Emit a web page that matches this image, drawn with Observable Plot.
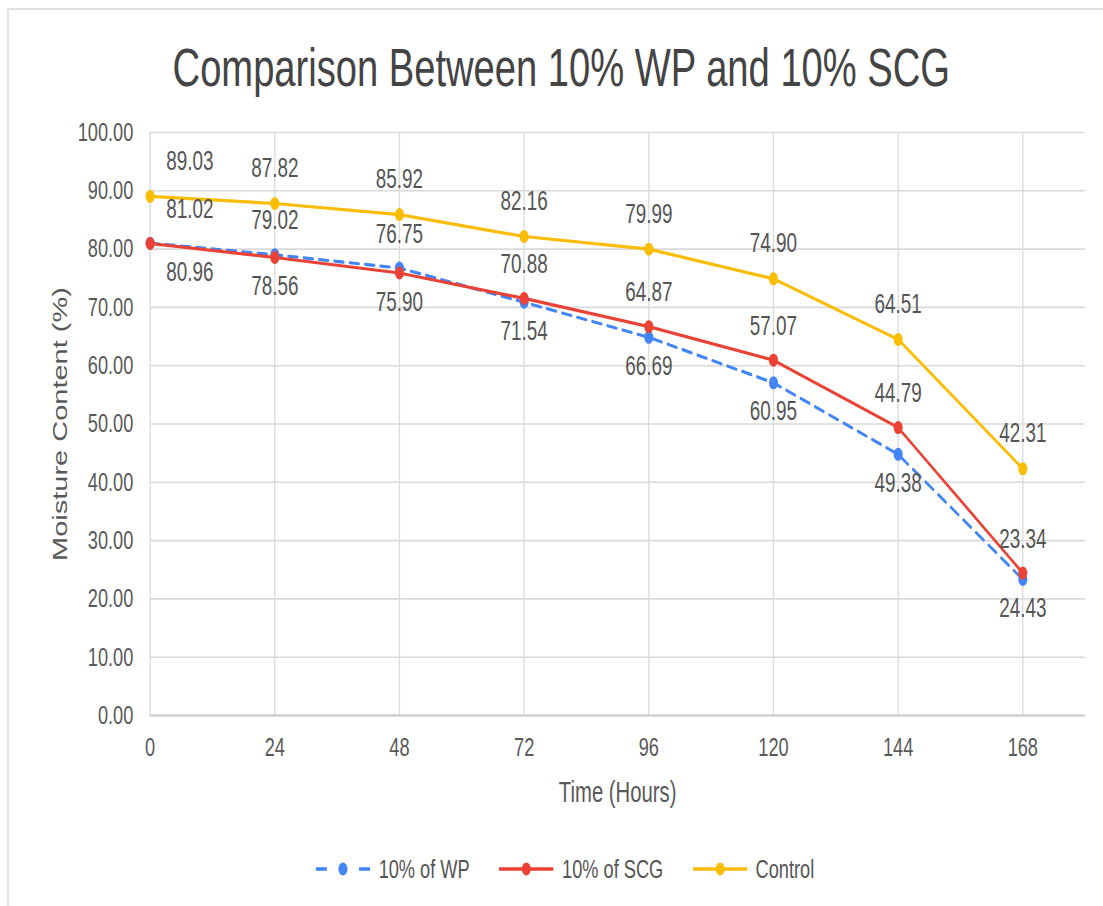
<!DOCTYPE html>
<html>
<head>
<meta charset="utf-8">
<script src="https://cdn.jsdelivr.net/npm/d3@7"></script>
<script src="https://cdn.jsdelivr.net/npm/@observablehq/plot@0.6"></script>
<style>
  html, body { margin: 0; padding: 0; background: #fff; overflow: hidden; }
  #page { position: relative; width: 1576px; height: 906px; transform: scaleX(0.69987); transform-origin: 0 0;
          font-family: "Liberation Sans", Arial, sans-serif; }
  #frame { position: absolute; left: 10px; top: 8px; right: 0; bottom: 0;
           border-top: 2px solid #e2e2e2; border-left: 3px solid #e2e2e2; }
  #chart { position: absolute; left: 0; top: 0; }
  #title { position: absolute; left: 0; width: 1604px; top: 41px; text-align: center;
           font-size: 54.5px; line-height: 1; color: #444; white-space: nowrap; }
  #legend { position: absolute; left: 451px; top: 854px; height: 30px; display: flex; align-items: center;
            font-size: 26px; line-height: 30px; color: #555; white-space: nowrap; }
  .item { display: flex; align-items: center; margin-right: 42px; }
  .item svg { margin-right: 12px; }
</style>
</head>
<body>
<div id="page">
  <div id="frame"></div>
  <div id="chart"></div>
  <div id="title">Comparison Between 10% WP and 10% SCG</div>
  <div id="legend"></div>
</div>
<script>
// ---- data ----
const hours = [0, 24, 48, 72, 96, 120, 144, 168];
const wp = [81.02, 79.02, 76.75, 70.88, 64.87, 57.07, 44.79, 23.34];
const scg = [80.96, 78.56, 75.90, 71.54, 66.69, 60.95, 49.38, 24.43];
const control = [89.03, 87.82, 85.92, 82.16, 79.99, 74.90, 64.51, 42.31];
const seriesNames = ["10% of WP", "10% of SCG", "Control"];
const seriesColors = ["#4285F4", "#EA4335", "#FBBC04"];
const yTicks = [0, 10, 20, 30, 40, 50, 60, 70, 80, 90, 100];
const xTicks = [0, 24, 48, 72, 96, 120, 144, 168];

// ---- tables ----
const rowsWP = hours.map((h, i) => ({hour: h, value: wp[i], top: Math.max(wp[i], scg[i])}));
const rowsSCG = hours.map((h, i) => ({hour: h, value: scg[i], bottom: Math.min(wp[i], scg[i])}));
const rowsCtl = hours.map((h, i) => ({hour: h, value: control[i]}));
const fmt = d3.format(".2f");
const [cWP, cSCG, cCtl] = seriesColors;
const labelFill = "#555";

function labels(rows, yKey, dy) {
  return [
    Plot.text(rows.filter(d => d.hour !== 0), {x: "hour", y: yKey, text: d => fmt(d.value), dy, fontSize: 27, fill: labelFill}),
    Plot.text(rows.filter(d => d.hour === 0), {x: "hour", y: yKey, text: d => fmt(d.value), dy, dx: 23, textAnchor: "start", fontSize: 27, fill: labelFill})
  ];
}

const chart = Plot.plot({
  width: 1576,
  height: 830,
  marginTop: 132,
  marginBottom: 115,
  marginLeft: 214,
  marginRight: 26,
  x: {domain: [0, 180]},
  y: {domain: [0, 100]},
  style: {fontFamily: '"Liberation Sans", Arial, sans-serif', color: "#595959", background: "transparent"},
  marks: [
    Plot.ruleY(yTicks, {stroke: "#dadada", strokeWidth: 1.6}),
    Plot.ruleX(xTicks, {stroke: "#dadada", strokeWidth: 1.8}),
    Plot.ruleY([0], {stroke: "#c9c9c9", strokeWidth: 2}),
    Plot.axisY({ticks: yTicks, tickSize: 0, tickPadding: 24, tickFormat: fmt, fontSize: 26, label: null}),
    Plot.axisX({ticks: xTicks, tickSize: 0, tickPadding: 22, tickFormat: d => String(d), fontSize: 26, label: null}),
    Plot.text(["Moisture Content (%)"], {frameAnchor: "left", rotate: -90, dx: -128, textAnchor: "middle", lineAnchor: "middle", fontSize: 29, fill: "#595959"}),
    Plot.text(["Time (Hours)"], {frameAnchor: "bottom", dy: 77, lineAnchor: "middle", fontSize: 29, fill: "#595959"}),
    // series
    Plot.line(rowsWP, {x: "hour", y: "value", stroke: cWP, strokeWidth: 3.2, strokeDasharray: "13,9"}),
    Plot.dot(rowsWP, {x: "hour", y: "value", r: 6.5, fill: cWP}),
    Plot.line(rowsSCG, {x: "hour", y: "value", stroke: cSCG, strokeWidth: 3.2}),
    Plot.dot(rowsSCG, {x: "hour", y: "value", r: 6.5, fill: cSCG}),
    Plot.line(rowsCtl, {x: "hour", y: "value", stroke: cCtl, strokeWidth: 3.2}),
    Plot.dot(rowsCtl, {x: "hour", y: "value", r: 6.5, fill: cCtl}),
    // data labels
    ...labels(rowsWP, "top", -34),
    ...labels(rowsSCG, "bottom", 29),
    ...labels(rowsCtl, "value", -35)
  ]
});
document.getElementById("chart").appendChild(chart);

// ---- legend ----
const legend = document.getElementById("legend");
seriesNames.forEach((name, i) => {
  const c = seriesColors[i];
  const item = document.createElement("div");
  item.className = "item";
  const line = i === 0
    ? `<line x1="0" y1="10" x2="16" y2="10" stroke="${c}" stroke-width="3.5"/><line x1="62" y1="10" x2="78" y2="10" stroke="${c}" stroke-width="3.5"/>`
    : `<line x1="0" y1="10" x2="78" y2="10" stroke="${c}" stroke-width="3.5"/>`;
  item.innerHTML = `<svg width="78" height="20" viewBox="0 0 78 20">${line}<circle cx="39" cy="10" r="6.5" fill="${c}"/></svg><span>${name}</span>`;
  legend.appendChild(item);
});
</script>
</body>
</html>
